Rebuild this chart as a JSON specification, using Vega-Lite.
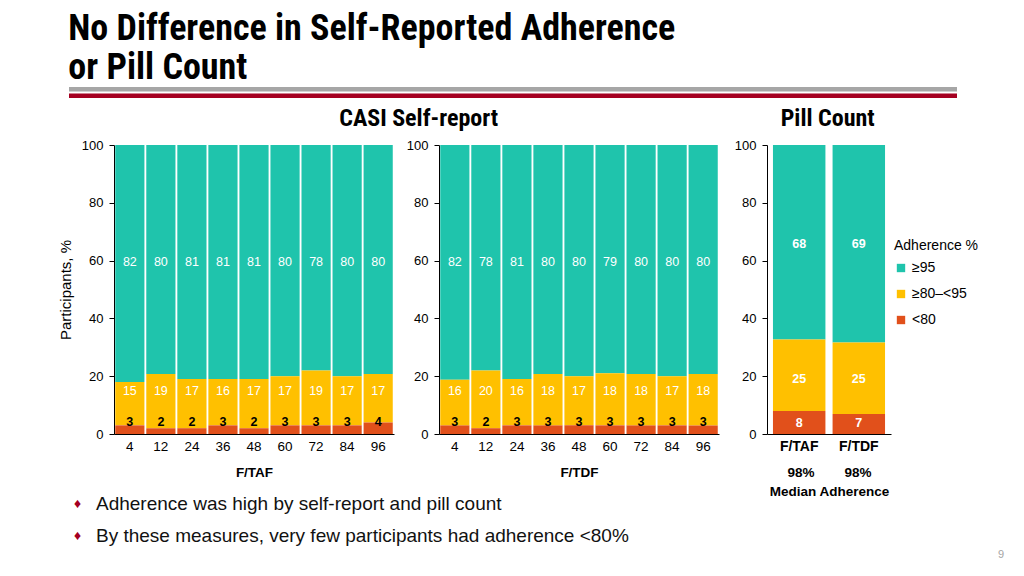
{
  "$schema": "https://vega.github.io/schema/vega-lite/v6.json",
  "padding": {"left": 58, "top": 11, "right": 5, "bottom": 2},
  "title": {
    "text": ["No Difference in Self-Reported Adherence", "or Pill Count"],
    "anchor": "start",
    "frame": "bounds",
    "font": "'Liberation Sans Narrow', 'Roboto Condensed', 'Noto Sans Condensed', 'DejaVu Sans Condensed', 'Liberation Sans', sans-serif",
    "fontSize": 36,
    "fontWeight": "bold",
    "lineHeight": 39,
    "color": "#000000",
    "offset": 0,
    "dx": 10
  },
  "config": {
    "view": {"stroke": null},
    "font": "Liberation Sans",
    "axis": {
      "grid": false,
      "domainColor": "#000000",
      "tickColor": "#000000",
      "labelColor": "#000000",
      "titleColor": "#000000",
      "labelFont": "Liberation Sans",
      "titleFont": "Liberation Sans"
    },
    "title": {"font": "'Liberation Sans Narrow', 'Roboto Condensed', 'Noto Sans Condensed', 'DejaVu Sans Condensed', 'Liberation Sans', sans-serif", "fontWeight": "bold", "fontSize": 24, "color": "#000000", "anchor": "middle"}
  },
  "datasets": {
    "taf": [
      {"week": 4, "cat": "≥95", "value": 82}, {"week": 4, "cat": "≥80–<95", "value": 15}, {"week": 4, "cat": "<80", "value": 3},
      {"week": 12, "cat": "≥95", "value": 80}, {"week": 12, "cat": "≥80–<95", "value": 19}, {"week": 12, "cat": "<80", "value": 2},
      {"week": 24, "cat": "≥95", "value": 81}, {"week": 24, "cat": "≥80–<95", "value": 17}, {"week": 24, "cat": "<80", "value": 2},
      {"week": 36, "cat": "≥95", "value": 81}, {"week": 36, "cat": "≥80–<95", "value": 16}, {"week": 36, "cat": "<80", "value": 3},
      {"week": 48, "cat": "≥95", "value": 81}, {"week": 48, "cat": "≥80–<95", "value": 17}, {"week": 48, "cat": "<80", "value": 2},
      {"week": 60, "cat": "≥95", "value": 80}, {"week": 60, "cat": "≥80–<95", "value": 17}, {"week": 60, "cat": "<80", "value": 3},
      {"week": 72, "cat": "≥95", "value": 78}, {"week": 72, "cat": "≥80–<95", "value": 19}, {"week": 72, "cat": "<80", "value": 3},
      {"week": 84, "cat": "≥95", "value": 80}, {"week": 84, "cat": "≥80–<95", "value": 17}, {"week": 84, "cat": "<80", "value": 3},
      {"week": 96, "cat": "≥95", "value": 80}, {"week": 96, "cat": "≥80–<95", "value": 17}, {"week": 96, "cat": "<80", "value": 4}
    ],
    "tdf": [
      {"week": 4, "cat": "≥95", "value": 82}, {"week": 4, "cat": "≥80–<95", "value": 16}, {"week": 4, "cat": "<80", "value": 3},
      {"week": 12, "cat": "≥95", "value": 78}, {"week": 12, "cat": "≥80–<95", "value": 20}, {"week": 12, "cat": "<80", "value": 2},
      {"week": 24, "cat": "≥95", "value": 81}, {"week": 24, "cat": "≥80–<95", "value": 16}, {"week": 24, "cat": "<80", "value": 3},
      {"week": 36, "cat": "≥95", "value": 80}, {"week": 36, "cat": "≥80–<95", "value": 18}, {"week": 36, "cat": "<80", "value": 3},
      {"week": 48, "cat": "≥95", "value": 80}, {"week": 48, "cat": "≥80–<95", "value": 17}, {"week": 48, "cat": "<80", "value": 3},
      {"week": 60, "cat": "≥95", "value": 79}, {"week": 60, "cat": "≥80–<95", "value": 18}, {"week": 60, "cat": "<80", "value": 3},
      {"week": 72, "cat": "≥95", "value": 80}, {"week": 72, "cat": "≥80–<95", "value": 18}, {"week": 72, "cat": "<80", "value": 3},
      {"week": 84, "cat": "≥95", "value": 80}, {"week": 84, "cat": "≥80–<95", "value": 17}, {"week": 84, "cat": "<80", "value": 3},
      {"week": 96, "cat": "≥95", "value": 80}, {"week": 96, "cat": "≥80–<95", "value": 18}, {"week": 96, "cat": "<80", "value": 3}
    ],
    "pill": [
      {"arm": "F/TAF", "cat": "≥95", "value": 68}, {"arm": "F/TAF", "cat": "≥80–<95", "value": 25}, {"arm": "F/TAF", "cat": "<80", "value": 8},
      {"arm": "F/TDF", "cat": "≥95", "value": 69}, {"arm": "F/TDF", "cat": "≥80–<95", "value": 25}, {"arm": "F/TDF", "cat": "<80", "value": 7}
    ],
    "bullets": [
      {"line": 1, "text": "Adherence was high by self-report and pill count"},
      {"line": 2, "text": "By these measures, very few participants had adherence <80%"}
    ]
  },
  "spacing": -3,
  "vconcat": [
    {
      "spacing": 9,
      "vconcat": [
        {
          "width": 888,
          "height": 11,
          "data": {"values": [{"band": "a"}, {"band": "b"}]},
          "encoding": {
            "y": {"field": "band", "type": "nominal", "axis": null, "scale": {"domain": ["a", "b"], "paddingInner": 0.3, "paddingOuter": 0}},
            "x": {"datum": 0, "type": "quantitative", "axis": null, "scale": {"domain": [0, 1], "nice": false}},
            "x2": {"datum": 1}
          },
          "layer": [
            {"transform": [{"filter": "datum.band == 'a'"}], "mark": {"type": "rect", "color": "#A6A6A6", "xOffset": -45, "x2Offset": -45}},
            {"transform": [{"filter": "datum.band == 'b'"}], "mark": {"type": "rect", "color": "#A50021", "xOffset": -45, "x2Offset": -45}}
          ]
        },
        {
          "spacing": 15,
          "hconcat": [
            {
              "title": {"text": "CASI Self-report", "offset": 8, "dx": 30},
              "spacing": 12,
              "hconcat": [
                {
                  "width": 280,
                  "height": 289,
                  "data": {"name": "taf"},
                  "encoding": {
                    "x": {"field": "week", "type": "ordinal", "scale": {"paddingInner": 0.06, "paddingOuter": 0.04},
                      "axis": {"labelAngle": 0, "ticks": false, "labelPadding": 5, "labelFontSize": 13.5, "title": "F/TAF", "titleFontSize": 13.5, "titleFontWeight": "bold", "titlePadding": 13}}
                  },
                  "layer": [
                    {
                      "mark": {"type": "bar"},
                      "encoding": {
                        "y": {"field": "value", "type": "quantitative", "stack": "normalize",
                          "axis": {"values": [0, 0.2, 0.4, 0.6, 0.8, 1], "labelExpr": "format(datum.value*100, 'd')", "tickSize": 5, "labelPadding": 6, "labelFontSize": 13, "title": "Participants, %", "titleFontSize": 15, "titleFontWeight": "normal", "titlePadding": 8}},
                        "color": {"field": "cat", "type": "nominal", "scale": {"domain": ["≥95", "≥80–<95", "<80"], "range": ["#1FC4AC", "#FFC000", "#E1501B"]},
                          "legend": {"title": "Adherence %", "orient": "none", "legendX": 780, "legendY": 152, "titleFontSize": 14, "titleFontWeight": "normal", "titleFont": "Liberation Sans", "labelFontSize": 14, "labelFont": "Liberation Sans", "symbolType": "square", "symbolSize": 70, "symbolStrokeWidth": 0, "rowPadding": 12, "titlePadding": 8, "labelColor": "#000000", "titleColor": "#000000"}},
                        "order": {"field": "cat", "sort": "ascending"}
                      }
                    },
                    {
                      "transform": [{"filter": "datum.cat == '≥95'"}],
                      "mark": {"type": "text", "color": "#ffffff", "fontSize": 12.5},
                      "encoding": {"y": {"datum": 0.595, "type": "quantitative"}, "text": {"field": "value"}}
                    },
                    {
                      "transform": [{"filter": "datum.cat == '≥80–<95'"}],
                      "mark": {"type": "text", "color": "#ffffff", "fontSize": 12.5},
                      "encoding": {"y": {"datum": 0.15, "type": "quantitative"}, "text": {"field": "value"}}
                    },
                    {
                      "transform": [{"filter": "datum.cat == '<80'"}],
                      "mark": {"type": "text", "color": "#000000", "fontSize": 12.5, "fontWeight": "bold"},
                      "encoding": {"y": {"datum": 0.042, "type": "quantitative"}, "text": {"field": "value"}}
                    }
                  ]
                },
                {
                  "width": 280,
                  "height": 289,
                  "data": {"name": "tdf"},
                  "encoding": {
                    "x": {"field": "week", "type": "ordinal", "scale": {"paddingInner": 0.06, "paddingOuter": 0.04},
                      "axis": {"labelAngle": 0, "ticks": false, "labelPadding": 5, "labelFontSize": 13.5, "title": "F/TDF", "titleFontSize": 13.5, "titleFontWeight": "bold", "titlePadding": 13}}
                  },
                  "layer": [
                    {
                      "mark": {"type": "bar"},
                      "encoding": {
                        "y": {"field": "value", "type": "quantitative", "stack": "normalize",
                          "axis": {"values": [0, 0.2, 0.4, 0.6, 0.8, 1], "labelExpr": "format(datum.value*100, 'd')", "tickSize": 5, "labelPadding": 6, "labelFontSize": 13, "title": null}},
                        "color": {"field": "cat", "type": "nominal", "legend": null},
                        "order": {"field": "cat", "sort": "ascending"}
                      }
                    },
                    {
                      "transform": [{"filter": "datum.cat == '≥95'"}],
                      "mark": {"type": "text", "color": "#ffffff", "fontSize": 12.5},
                      "encoding": {"y": {"datum": 0.595, "type": "quantitative"}, "text": {"field": "value"}}
                    },
                    {
                      "transform": [{"filter": "datum.cat == '≥80–<95'"}],
                      "mark": {"type": "text", "color": "#ffffff", "fontSize": 12.5},
                      "encoding": {"y": {"datum": 0.15, "type": "quantitative"}, "text": {"field": "value"}}
                    },
                    {
                      "transform": [{"filter": "datum.cat == '<80'"}],
                      "mark": {"type": "text", "color": "#000000", "fontSize": 12.5, "fontWeight": "bold"},
                      "encoding": {"y": {"datum": 0.042, "type": "quantitative"}, "text": {"field": "value"}}
                    }
                  ]
                }
              ]
            },
            {
              "title": {"text": "Pill Count", "offset": 8, "dx": 15},
              "hconcat": [
                {
                  "width": 124,
                  "height": 289,
                  "data": {"name": "pill"},
                  "encoding": {
                    "x": {"field": "arm", "type": "nominal", "sort": ["F/TAF", "F/TDF"], "scale": {"paddingInner": 0.12, "paddingOuter": 0.1},
                      "axis": {"labelAngle": 0, "ticks": false, "labelPadding": 5, "labelFontSize": 14, "labelFontWeight": "bold", "title": ["98%\u00a0\u00a0\u00a0\u00a0\u00a0\u00a0\u00a0\u00a098%", "Median Adherence"], "titleFontSize": 13.5, "titleFontWeight": "bold", "titlePadding": 12, "titleLineHeight": 19}}
                  },
                  "layer": [
                    {
                      "mark": {"type": "bar"},
                      "encoding": {
                        "y": {"field": "value", "type": "quantitative", "stack": "normalize",
                          "axis": {"values": [0, 0.2, 0.4, 0.6, 0.8, 1], "labelExpr": "format(datum.value*100, 'd')", "tickSize": 5, "labelPadding": 6, "labelFontSize": 13, "title": null}},
                        "color": {"field": "cat", "type": "nominal", "legend": null},
                        "order": {"field": "cat", "sort": "ascending"}
                      }
                    },
                    {
                      "transform": [{"filter": "datum.cat == '≥95'"}],
                      "mark": {"type": "text", "color": "#ffffff", "fontSize": 12.5, "fontWeight": "bold"},
                      "encoding": {"y": {"datum": 0.657, "type": "quantitative"}, "text": {"field": "value"}}
                    },
                    {
                      "transform": [{"filter": "datum.cat == '≥80–<95'"}],
                      "mark": {"type": "text", "color": "#ffffff", "fontSize": 12.5, "fontWeight": "bold"},
                      "encoding": {"y": {"datum": 0.19, "type": "quantitative"}, "text": {"field": "value"}}
                    },
                    {
                      "transform": [{"filter": "datum.cat == '<80'"}],
                      "mark": {"type": "text", "color": "#ffffff", "fontSize": 12.5, "fontWeight": "bold"},
                      "encoding": {"y": {"datum": 0.038, "type": "quantitative"}, "text": {"field": "value"}}
                    }
                  ]
                }
              ]
            }
          ]
        }
      ]
    },
    {
      "width": 880,
      "height": 32,
      "data": {"name": "bullets"},
      "encoding": {
        "y": {"field": "line", "type": "quantitative", "axis": null, "scale": {"domain": [1, 2], "reverse": true, "nice": false, "zero": false}}
      },
      "layer": [
        {
          "mark": {"type": "text", "text": "♦", "align": "left", "x": 0, "dx": -40, "fontSize": 14, "color": "#A50021"},
          "encoding": {}
        },
        {
          "mark": {"type": "text", "align": "left", "x": 0, "dx": -18, "fontSize": 19, "color": "#111111"},
          "encoding": {"text": {"field": "text"}}
        },
        {
          "transform": [{"filter": "datum.line == 2"}],
          "mark": {"type": "text", "text": "9", "align": "right", "x": 0, "dx": 890, "dy": 19, "fontSize": 11, "color": "#A6A6A6"},
          "encoding": {}
        }
      ]
    }
  ]
}
